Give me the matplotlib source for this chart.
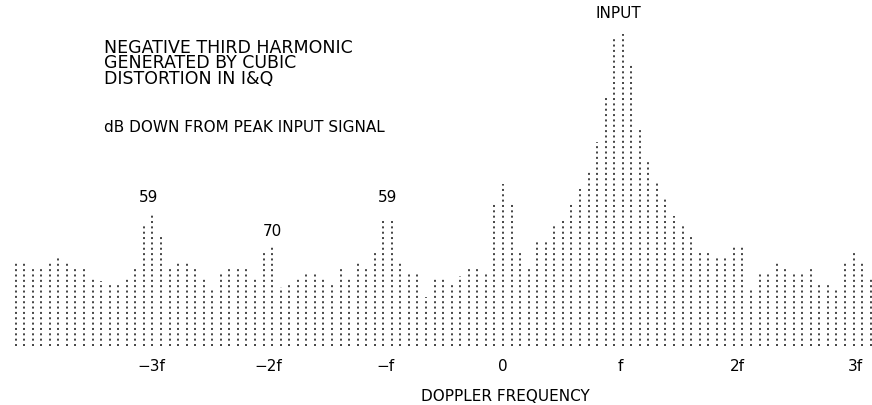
import matplotlib.pyplot as plt
import numpy as np

# spectral line levels (arbitrary height units above the baseline), 101 doppler bins
levels = [84, 84, 79, 79, 84, 89, 84, 79, 79, 69, 65, 62, 64, 67, 79,
          120, 131, 110, 79, 84, 85, 79, 69, 58, 74, 79, 79, 79, 69, 95, 100, 59, 64,
          69, 74, 74, 69, 64, 79, 69, 84, 79, 95, 125, 125, 84, 74, 74, 49,
          69, 69, 64, 70, 80, 80, 74, 142, 162, 142, 95, 80, 105, 105, 120, 127,
          142, 157, 175, 204, 249, 307, 312, 282, 219, 187, 164, 147, 130, 122, 110, 95, 95,
          89, 89, 99, 99, 58, 74, 74, 83, 78, 72, 74, 79, 64, 64, 58, 84, 94, 84, 69]
zero_bin = 57
bin_width = 0.0729  # in units of f

tick_pos = [-3, -2, -1, 0, 1, 2, 3]
tick_labels = ['\u22123f', '\u22122f', '\u2212f', '0', 'f', '2f', '3f']

# harmonic annotations: (bins of the peak, text, label height)
marks = [([15, 16], '59', 150), ([30], '70', 115), ([43, 44], '59', 150)]

levels = np.array(levels)
freq = (np.arange(len(levels)) - zero_bin) * bin_width

fig = plt.figure(figsize=(8.72, 4.06), dpi=100)
ax = fig.add_axes([0, 59 / 406, 1, 347 / 406])
ax.set_xlim(-503 / 117.3, 369 / 117.3)
ax.set_ylim(0, 347)

ax.vlines(freq, 0, levels, colors='#111111', linewidth=1.1,
          linestyles=(0, (1.3, 2.2)))

for bins, txt, y in marks:
    ax.text(freq[bins].mean(), y, txt, ha='center', va='center', fontsize=11)

peak = int(np.argmax(levels))
ax.text(freq[peak - 1:peak + 1].mean(), levels[peak] + 21, 'INPUT',
        ha='center', va='center', fontsize=11)

ax.text(-399 / 117.3, 347 - 39, 'NEGATIVE THIRD HARMONIC\nGENERATED BY CUBIC\nDISTORTION IN I&Q',
        ha='left', va='top', fontsize=12.5, linespacing=0.82)
ax.text(-399 / 117.3, 347 - 128, 'dB DOWN FROM PEAK INPUT SIGNAL',
        ha='left', va='center', fontsize=11)

ax.set_xticks(tick_pos)
ax.set_xticklabels(tick_labels, fontsize=11)
ax.tick_params(axis='x', length=0, pad=9)
ax.set_yticks([])
ax.set_xlabel('DOPPLER FREQUENCY', fontsize=11)
ax.xaxis.set_label_coords(505 / 872, -42 / 347)
for s in ax.spines.values():
    s.set_visible(False)

fig.savefig('out.png', dpi=100)
